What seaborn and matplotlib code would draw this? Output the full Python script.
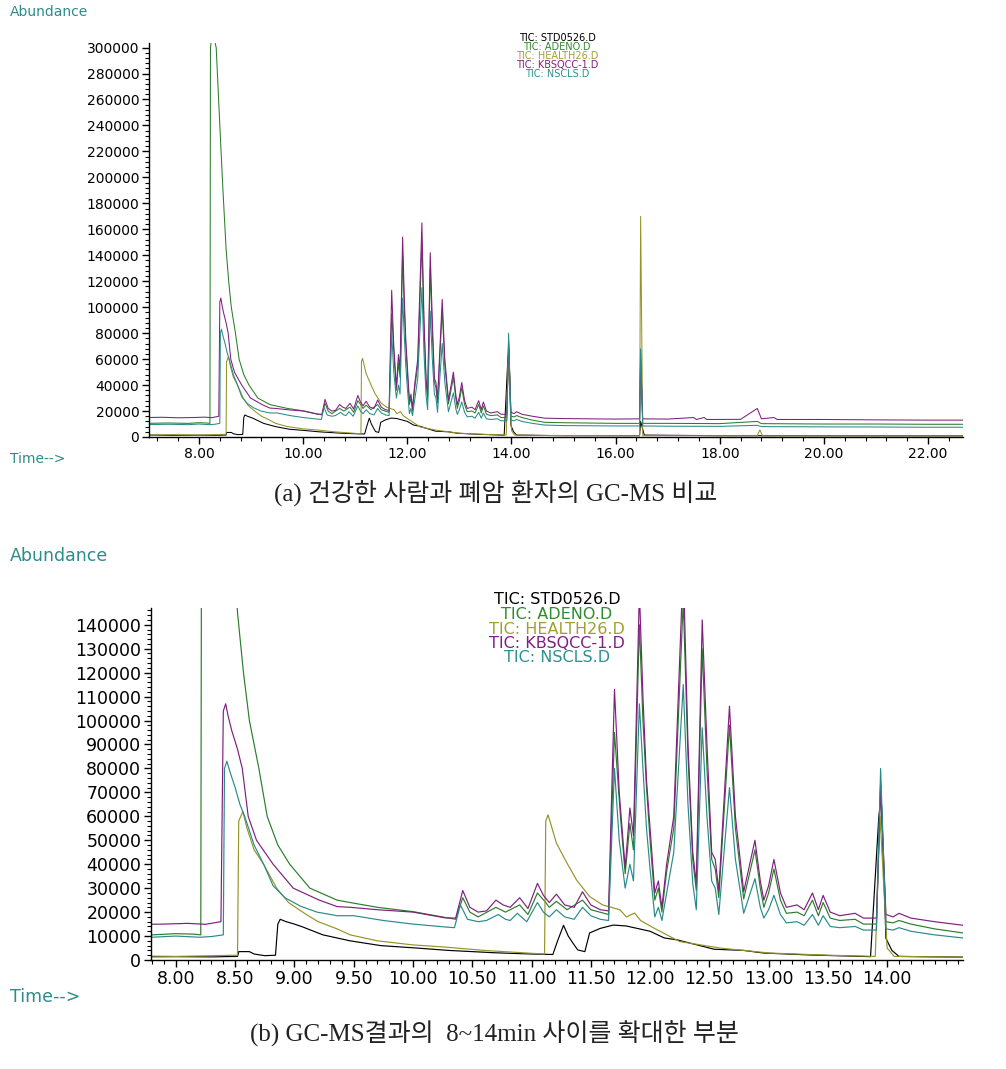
import matplotlib
matplotlib.use("Agg")
import matplotlib.pyplot as plt
import pandas as pd
import seaborn as sns
from matplotlib.ticker import FixedLocator, MultipleLocator

samples = ["TIC: STD0526.D", "TIC: ADENO.D", "TIC: HEALTH26.D",
           "TIC: KBSQCC-1.D", "TIC: NSCLS.D"]
line_colors = ["#000000", "#2B7D2B", "#949428", "#7F1F7F", "#2A8A8A"]
text_colors = ["#000000", "#2E8B2E", "#A0A030", "#802080", "#2E9090"]

# STD0526
t_std = [7.00, 7.50, 8.00, 8.30, 8.52, 8.53, 8.62, 8.66, 8.75, 8.84, 8.86, 8.88,
         8.93, 9.00, 9.07, 9.24, 9.47, 9.73, 10.03, 10.30, 10.70, 11.00, 11.18,
         11.22, 11.27, 11.31, 11.35, 11.39, 11.45, 11.49, 11.58, 11.69, 11.80,
         12.00, 12.12, 12.23, 12.54, 12.79, 12.96, 13.35, 13.86, 13.93, 13.95,
         13.99, 14.04, 14.10, 14.64, 15.00, 16.46, 16.48, 16.55, 18.00, 22.70]
y_std = [1500, 1300, 1400, 1300, 1500, 3500, 3500, 2500, 1800, 2000, 15000, 17000,
         16000, 15000, 13800, 10500, 8000, 6000, 5000, 4000, 3000, 2500, 2300,
         8000, 14500, 10000, 7000, 4200, 3500, 11300, 13200, 14600, 14200,
         12000, 9200, 8400, 4500, 4000, 2900, 2100, 1400, 60000, 68000,
         9000, 4000, 1500, 1200, 1000, 1000, 12000, 1500, 1000, 900]

# ADENO
t_ade = [7.00, 7.40, 7.80, 8.00, 8.15, 8.21, 8.22, 8.26, 8.33, 8.40, 8.46, 8.52,
         8.57, 8.62, 8.70, 8.77, 8.86, 8.96, 9.13, 9.36, 9.47, 9.70, 10.00, 10.27,
         10.36, 10.42, 10.48, 10.55, 10.70, 10.78, 10.90, 10.97, 11.05, 11.12,
         11.15, 11.21, 11.30, 11.43, 11.50, 11.65, 11.70, 11.75, 11.79, 11.83,
         11.86, 11.91, 11.94, 11.97, 12.00, 12.04, 12.07, 12.10, 12.14, 12.20,
         12.28, 12.32, 12.36, 12.39, 12.44, 12.48, 12.52, 12.55, 12.58, 12.67,
         12.72, 12.79, 12.885, 12.93, 12.96, 13.00, 13.045, 13.10, 13.15, 13.24,
         13.30, 13.37, 13.42, 13.46, 13.52, 13.60, 13.73, 13.80, 13.91, 13.945,
         13.99, 14.05, 14.10, 14.20, 14.40, 14.64, 15.00, 16.00, 16.46, 16.48,
         16.52, 17.00, 18.00, 18.72, 18.80, 20.00, 21.00, 22.00, 22.70]
y_ade = [10500, 10800, 10500, 11000, 10800, 10500, 300000, 312000, 300000, 240000,
         190000, 145000, 120000, 100000, 80000, 60000, 48000, 40000, 30000, 25000,
         24000, 22000, 20200, 17800, 17000, 26000, 20000, 18000, 22000, 20000,
         23000, 19000, 28000, 24000, 22000, 24500, 21000, 25000, 21000, 19000,
         95000, 60000, 36000, 57000, 46000, 140000, 100000, 72000, 50000, 25000,
         30000, 20000, 37000, 55000, 150000, 85000, 42000, 29000, 130000, 80000,
         42000, 38000, 26000, 98000, 55000, 25500, 46000, 30000, 22000, 28000,
         38000, 25000, 19500, 20000, 18500, 25000, 18500, 24000, 17500, 16500,
         17000, 15000, 15000, 74000, 16000, 15500, 16500, 15000, 13000, 11300,
         11000, 10500, 10500, 67000, 10500, 10500, 10300, 12000, 10300, 10000,
         10000, 9800, 9800]

# HEALTH26
t_hea = [7.00, 7.50, 8.00, 8.30, 8.52, 8.53, 8.565, 8.60, 8.66, 8.74, 8.85, 8.95,
         9.10, 9.20, 9.36, 9.47, 9.70, 10.00, 10.27, 10.60, 11.00, 11.11, 11.12,
         11.14, 11.21, 11.30, 11.38, 11.49, 11.60, 11.745, 11.80, 11.87, 11.92,
         12.03, 12.25, 12.59, 13.01, 13.50, 13.90, 13.94, 14.00, 14.06, 14.64,
         16.46, 16.48, 16.52, 18.72, 18.77, 18.82, 22.70]
y_hea = [1500, 1800, 1500, 1800, 2000, 58000, 62000, 55000, 46000, 40000, 30000,
         24000, 19000, 16000, 13000, 10500, 8000, 6300, 5400, 4000, 2800, 2500,
         58000, 60600, 48800, 40400, 33400, 26500, 23000, 21000, 18000, 19600,
         16500, 13400, 7700, 5000, 2900, 2000, 1500, 60000, 5000, 1500, 1200,
         1000, 170000, 1000, 1000, 5500, 900, 900]

# KBSQCC-1
t_kbs = [7.00, 7.30, 7.60, 7.90, 8.10, 8.25, 8.38, 8.40, 8.42, 8.44, 8.47, 8.52,
         8.56, 8.61, 8.68, 8.82, 8.99, 9.21, 9.36, 9.47, 9.70, 10.00, 10.27,
         10.36, 10.42, 10.48, 10.55, 10.62, 10.70, 10.76, 10.82, 10.90, 10.97,
         11.05, 11.10, 11.15, 11.21, 11.28, 11.36, 11.43, 11.50, 11.58, 11.65,
         11.70, 11.74, 11.79, 11.83, 11.86, 11.91, 11.94, 11.97, 12.00, 12.04,
         12.07, 12.10, 12.14, 12.20, 12.28, 12.32, 12.36, 12.39, 12.44, 12.48,
         12.52, 12.55, 12.58, 12.67, 12.72, 12.79, 12.885, 12.93, 12.96, 13.00,
         13.045, 13.10, 13.15, 13.24, 13.30, 13.37, 13.42, 13.46, 13.52, 13.60,
         13.73, 13.80, 13.91, 13.945, 13.99, 14.05, 14.10, 14.20, 14.40, 14.64,
         15.00, 16.00, 16.46, 16.48, 16.52, 17.00, 17.50, 17.55, 17.70, 17.75,
         18.40, 18.72, 18.80, 19.04, 19.10, 20.00, 21.00, 22.00, 22.70]
y_kbs = [15000, 15200, 14800, 15000, 15300, 14900, 16000, 104000, 107000, 102000,
         96000, 88000, 80000, 60000, 50000, 40000, 30000, 25000, 22300, 22000,
         21000, 20000, 17600, 17500, 29000, 22000, 20000, 20500, 25000, 23000,
         22000, 26000, 21500, 32000, 27000, 24000, 27500, 23000, 22000, 28500,
         23000, 21000, 20500, 113000, 70000, 38500, 63500, 52000, 154000, 110000,
         75000, 55000, 28000, 33000, 22000, 40000, 60000, 165000, 90000, 45000,
         32000, 142000, 90000, 45000, 42000, 29000, 106000, 60000, 28500, 50000,
         33000, 25000, 31000, 42000, 28000, 22000, 23000, 21000, 28000, 21000,
         27000, 20000, 18500, 19500, 17500, 17500, 73000, 19000, 18000, 19500,
         17500, 16000, 14500, 14200, 13800, 14000, 60000, 14000, 13800, 15000,
         13500, 15000, 13500, 13600, 22000, 14000, 15000, 13500, 13500, 13200,
         13000, 13000]

# NSCLS
t_nsc = [7.00, 7.40, 7.80, 8.00, 8.20, 8.30, 8.40, 8.41, 8.43, 8.46, 8.50, 8.54,
         8.58, 8.66, 8.74, 8.82, 8.92, 9.05, 9.19, 9.36, 9.50, 9.75, 10.00, 10.27,
         10.35, 10.40, 10.46, 10.55, 10.62, 10.72, 10.78, 10.82, 10.88, 10.96,
         11.05, 11.10, 11.15, 11.21, 11.28, 11.36, 11.43, 11.50, 11.58, 11.65,
         11.70, 11.74, 11.79, 11.83, 11.86, 11.91, 11.94, 11.97, 12.00, 12.04,
         12.07, 12.10, 12.14, 12.20, 12.28, 12.32, 12.36, 12.39, 12.44, 12.48,
         12.52, 12.55, 12.58, 12.67, 12.72, 12.79, 12.885, 12.93, 12.96, 13.00,
         13.045, 13.10, 13.15, 13.24, 13.30, 13.37, 13.42, 13.46, 13.52, 13.60,
         13.73, 13.80, 13.91, 13.945, 13.99, 14.05, 14.10, 14.20, 14.40, 14.64,
         15.00, 16.00, 16.46, 16.48, 16.52, 17.00, 18.00, 18.72, 18.80, 20.00,
         21.00, 22.00, 22.70]
y_nsc = [9500, 9800, 9500, 10000, 9500, 9800, 10500, 80000, 83000, 78000, 72000,
         65000, 60000, 48000, 40000, 31000, 26000, 22500, 20000, 18500, 18500,
         16500, 15000, 13800, 13500, 23000, 17000, 16000, 16500, 19000, 17000,
         16500, 19500, 16000, 24000, 20000, 18000, 21000, 18000, 17000, 22000,
         18500, 17000, 16500, 80000, 50000, 30000, 40000, 33000, 107000, 80000,
         55000, 38000, 18000, 22000, 16500, 28000, 45000, 115000, 65000, 32000,
         21000, 97000, 60000, 33000, 30000, 19000, 72000, 42000, 19500, 34000,
         22000, 17500, 21000, 27000, 19000, 15500, 16000, 14500, 19000, 14500,
         18500, 14000, 13500, 14000, 12500, 12500, 80000, 13000, 12500, 13500,
         12000, 10500, 9200, 8800, 8500, 8500, 68000, 8500, 8300, 8200, 9000,
         8000, 7800, 7700, 7500, 7500]

frames = []
for name, t, y in zip(samples, [t_std, t_ade, t_hea, t_kbs, t_nsc],
                      [y_std, y_ade, y_hea, y_kbs, y_nsc]):
    frames.append(pd.DataFrame({"time": t, "abundance": y, "sample": name}))
df = pd.concat(frames, ignore_index=True)

sns.set_theme(style="white")
plt.rcParams['font.family'] = ['DejaVu Sans']

W, H = 1006, 1069
fig = plt.figure(figsize=(W / 100, H / 100), dpi=100)
teal = "#2E8B8B"


def px(x, y):
    return x / W, 1 - y / H


def draw_panel(ax, xlim, ylim, xmajor, xminor, ymajor, yminor, fs, lw):
    sns.lineplot(data=df, x="time", y="abundance", hue="sample",
                 hue_order=samples, palette=dict(zip(samples, line_colors)),
                 estimator=None, sort=False, linewidth=lw, legend=False, ax=ax)
    ax.set_xlim(*xlim)
    ax.set_ylim(*ylim)
    ax.set_xlabel("")
    ax.set_ylabel("")
    sns.despine(ax=ax)
    for s in ["left", "bottom"]:
        ax.spines[s].set_color("black")
        ax.spines[s].set_linewidth(1.0)
    ax.xaxis.set_major_locator(FixedLocator(xmajor))
    ax.xaxis.set_minor_locator(MultipleLocator(xminor))
    ax.set_xticklabels([f"{v:.2f}" for v in xmajor])
    ax.yaxis.set_major_locator(FixedLocator(ymajor))
    ax.yaxis.set_minor_locator(MultipleLocator(yminor))
    ax.set_yticklabels([f"{v:d}" for v in ymajor])
    ax.tick_params(axis="both", which="major", direction="out", length=5,
                   width=1, color="black", labelsize=fs, labelcolor="black",
                   left=True, bottom=True, pad=2)
    ax.tick_params(axis="both", which="minor", direction="out", length=3,
                   width=0.8, color="black", left=True, bottom=True)
    ax.set_facecolor("white")


# (a) full run
l, b = px(149, 437)
r, t = px(963, 43)
ax_a = fig.add_axes([l, b, r - l, t - b])
draw_panel(ax_a, (7.04, 22.67), (0, 303500),
           [8, 10, 12, 14, 16, 18, 20, 22], 0.4,
           list(range(0, 300001, 20000)), 4000, 10, 0.75)

# (b) zoom 8-14 min
l, b = px(151, 960)
r, t = px(963, 608)
ax_b = fig.add_axes([l, b, r - l, t - b])
draw_panel(ax_b, (7.79, 14.64), (0, 147000),
           [8.0, 8.5, 9.0, 9.5, 10.0, 10.5, 11.0, 11.5, 12.0, 12.5, 13.0,
            13.5, 14.0], 0.1,
           list(range(0, 140001, 10000)), 2000, 12.5, 0.85)

# axis captions in ChemStation style
fig.text(*px(10, 12), "Abundance", color=teal, fontsize=10, ha="left", va="center")
fig.text(*px(10, 459), "Time-->", color=teal, fontsize=10, ha="left", va="center")
fig.text(*px(10, 556), "Abundance", color=teal, fontsize=12.5, ha="left", va="center")
fig.text(*px(10, 997), "Time-->", color=teal, fontsize=12.5, ha="left", va="center")

# trace labels
for i, (name, c) in enumerate(zip(samples, text_colors)):
    fig.text(*px(557, 38.3 + 9 * i), name, color=c, fontsize=7,
             ha="center", va="center")
    fig.text(*px(557, 600 + 14.5 * i), name, color=c, fontsize=11.5,
             ha="center", va="center")

cap_font = ["Liberation Serif", "Noto Sans CJK KR"]
fig.text(*px(496, 494), "(a) 건강한 사람과 폐암 환자의 GC-MS 비교",
         family=cap_font, fontsize=18, ha="center", va="center", color="#222222")
fig.text(*px(494, 1034), "(b) GC-MS결과의  8~14min 사이를 확대한 부분",
         family=cap_font, fontsize=18, ha="center", va="center", color="#222222")

fig.savefig("out.png", dpi=100, facecolor="white")
